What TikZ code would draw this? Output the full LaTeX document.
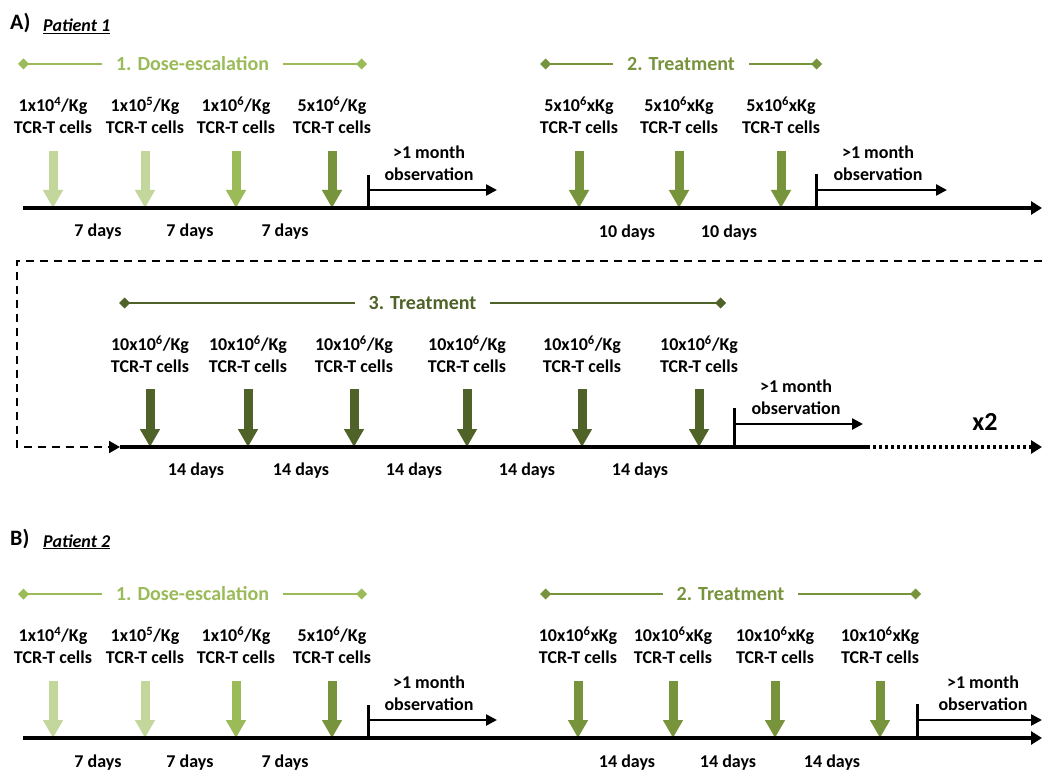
\documentclass[tikz,border=0pt]{standalone}
\usepackage{fontspec}
\setmainfont{Carlito}
\usepackage{tikz}
\usetikzlibrary{arrows.meta}

\definecolor{dosei}{HTML}{C3D69B}
\definecolor{doseii}{HTML}{9BBB59}
\definecolor{doseiii}{HTML}{77933C}
\definecolor{doseiv}{HTML}{4F6228}

\tikzset{
    lbl/.style={font=\fontsize{18}{22}\selectfont\bfseries, align=center, inner sep=0pt, anchor=south},
    days/.style={font=\fontsize{18}{22}\selectfont\bfseries, inner sep=0pt, anchor=base},
    head/.style={font=\fontsize{22}{26}\selectfont\bfseries, inner sep=0pt, anchor=base west},
    patient/.style={font=\fontsize{18}{21}\selectfont\bfseries\itshape, inner sep=0pt, anchor=base west},
    phase/.style={line width=2pt, {Diamond[length=11pt,width=11pt]}-{Diamond[length=11pt,width=11pt]}},
    phasetxt/.style={font=\fontsize{20}{24}\selectfont\bfseries, fill=white, inner xsep=14pt},
    dose/.style={line width=9pt, -{Triangle[length=18pt,width=19pt]}},
    axis/.style={line width=4.5pt, -{Triangle[length=11pt,width=13pt]}},
    dotaxis/.style={line width=4.5pt, dash pattern=on 3pt off 3pt, -{Triangle[length=11pt,width=13pt]}},
    bar/.style={line width=3pt},
    obs/.style={line width=2.5pt, -{Triangle[length=11pt,width=11pt]}},
    link/.style={line width=2pt, dash pattern=on 8pt off 6pt, -{Triangle[length=11pt,width=12pt]}}
}

\begin{document}
\begin{tikzpicture}[x=1pt,y=-1pt]
    \useasboundingbox (0,0) rectangle (1042,770);

    % A) Patient 1, first timeline
    \node[head] (hA) at (10,30) {A)};
    \node[patient] (pA) at (43,32) {\underline{Patient 1}};

    \coordinate (pa1l) at (18,64);
    \coordinate (pa1r) at (367,64);
    \draw[phase, doseii] (pa1l) -- node[phasetxt] {1. Dose-escalation} (pa1r);
    \coordinate (pa2l) at (540,64);
    \coordinate (pa2r) at (822,64);
    \draw[phase, doseiii] (pa2l) -- node[phasetxt] {2. Treatment} (pa2r);

    \node[lbl] (a1) at (53,134) {1x10\textsuperscript{4}/Kg\\TCR-T cells};
    \node[lbl] (a2) at (145,134) {1x10\textsuperscript{5}/Kg\\TCR-T cells};
    \node[lbl] (a3) at (236,134) {1x10\textsuperscript{6}/Kg\\TCR-T cells};
    \node[lbl] (a4) at (332,134) {5x10\textsuperscript{6}/Kg\\TCR-T cells};
    \node[lbl] (a5) at (579,134) {5x10\textsuperscript{6}xKg\\TCR-T cells};
    \node[lbl] (a6) at (679,134) {5x10\textsuperscript{6}xKg\\TCR-T cells};
    \node[lbl] (a7) at (781,134) {5x10\textsuperscript{6}xKg\\TCR-T cells};

    \coordinate (ta0) at (23,208);
    \coordinate (ta9) at (1042,208);
    \draw[dose, dosei] ([yshift=-17pt]a1.south) -- (a1 |- ta0);
    \draw[dose, dosei] ([yshift=-17pt]a2.south) -- (a2 |- ta0);
    \draw[dose, doseii] ([yshift=-17pt]a3.south) -- (a3 |- ta0);
    \draw[dose, doseiii] ([yshift=-17pt]a4.south) -- (a4 |- ta0);
    \draw[dose, doseiii] ([yshift=-17pt]a5.south) -- (a5 |- ta0);
    \draw[dose, doseiii] ([yshift=-17pt]a6.south) -- (a6 |- ta0);
    \draw[dose, doseiii] ([yshift=-17pt]a7.south) -- (a7 |- ta0);
    \draw[axis] (ta0) -- (ta9);

    \node[lbl] (ma1) at (429,181) {>1 month\\observation};
    \coordinate (oa1) at (368,175);
    \coordinate (ea1) at (497,190);
    \draw[bar] (oa1) -- (oa1 |- ta0);
    \draw[obs] (oa1 |- ea1) -- (ea1);
    \node[lbl] (ma2) at (878,181) {>1 month\\observation};
    \coordinate (oa2) at (816,174);
    \coordinate (ea2) at (947,190);
    \draw[bar] (oa2) -- (oa2 |- ta0);
    \draw[obs] (oa2 |- ea2) -- (ea2);

    \node[days] (da1) at (98,237) {7 days};
    \node[days] (da2) at (190,237) {7 days};
    \node[days] (da3) at (285,237) {7 days};
    \node[days] (da4) at (627,238) {10 days};
    \node[days] (da5) at (729,238) {10 days};

    % A) Patient 1, repeated treatment
    \coordinate (t30) at (120,447);
    \coordinate (t38) at (867,447);
    \coordinate (t39) at (1042,447);
    \coordinate (lk) at (17,261);
    \draw[link] (lk -| ta9) -- (lk) |- (t30);

    \coordinate (p3l) at (119,303);
    \coordinate (p3r) at (726,303);
    \draw[phase, doseiv] (p3l) -- node[phasetxt] {3. Treatment} (p3r);

    \node[lbl] (c1) at (150,373) {10x10\textsuperscript{6}/Kg\\TCR-T cells};
    \node[lbl] (c2) at (248,373) {10x10\textsuperscript{6}/Kg\\TCR-T cells};
    \node[lbl] (c3) at (354,373) {10x10\textsuperscript{6}/Kg\\TCR-T cells};
    \node[lbl] (c4) at (467,373) {10x10\textsuperscript{6}/Kg\\TCR-T cells};
    \node[lbl] (c5) at (582,373) {10x10\textsuperscript{6}/Kg\\TCR-T cells};
    \node[lbl] (c6) at (699,373) {10x10\textsuperscript{6}/Kg\\TCR-T cells};
    \draw[dose, doseiv] ([yshift=-16pt]c1.south) -- (c1 |- t30);
    \draw[dose, doseiv] ([yshift=-16pt]c2.south) -- (c2 |- t30);
    \draw[dose, doseiv] ([yshift=-16pt]c3.south) -- (c3 |- t30);
    \draw[dose, doseiv] ([yshift=-16pt]c4.south) -- (c4 |- t30);
    \draw[dose, doseiv] ([yshift=-16pt]c5.south) -- (c5 |- t30);
    \draw[dose, doseiv] ([yshift=-16pt]c6.south) -- (c6 |- t30);
    \draw[line width=4.5pt] (t30) -- (t38);
    \draw[dotaxis] (t38) -- (t39);

    \node[lbl] (m3) at (796,415) {>1 month\\observation};
    \coordinate (o3) at (734,408);
    \coordinate (e3) at (863,424);
    \draw[bar] (o3) -- (o3 |- t30);
    \draw[obs] (o3 |- e3) -- (e3);
    \node[font=\fontsize{26}{30}\selectfont\bfseries] (xt) at (985,422) {x2};

    \node[days] (d31) at (196,475) {14 days};
    \node[days] (d32) at (301,475) {14 days};
    \node[days] (d33) at (414,475) {14 days};
    \node[days] (d34) at (527,475) {14 days};
    \node[days] (d35) at (640,475) {14 days};

    % B) Patient 2
    \node[head] (hB) at (10,545) {B)};
    \node[patient] (pB) at (43,547) {\underline{Patient 2}};

    \begin{scope}[shift={(0,530)}]
        \coordinate (pb1l) at (18,64);
        \coordinate (pb1r) at (367,64);
        \draw[phase, doseii] (pb1l) -- node[phasetxt] {1. Dose-escalation} (pb1r);
        \coordinate (pb2l) at (540,64);
        \coordinate (pb2r) at (921,64);
        \draw[phase, doseiii] (pb2l) -- node[phasetxt] {2. Treatment} (pb2r);

        \node[lbl] (b1) at (53,134) {1x10\textsuperscript{4}/Kg\\TCR-T cells};
        \node[lbl] (b2) at (145,134) {1x10\textsuperscript{5}/Kg\\TCR-T cells};
        \node[lbl] (b3) at (236,134) {1x10\textsuperscript{6}/Kg\\TCR-T cells};
        \node[lbl] (b4) at (332,134) {5x10\textsuperscript{6}/Kg\\TCR-T cells};
        \node[lbl] (b5) at (578,134) {10x10\textsuperscript{6}xKg\\TCR-T cells};
        \node[lbl] (b6) at (673,134) {10x10\textsuperscript{6}xKg\\TCR-T cells};
        \node[lbl] (b7) at (775,134) {10x10\textsuperscript{6}xKg\\TCR-T cells};
        \node[lbl] (b8) at (880,134) {10x10\textsuperscript{6}xKg\\TCR-T cells};

        \coordinate (tb0) at (23,208);
        \coordinate (tb9) at (1042,208);
        \draw[dose, dosei] ([yshift=-17pt]b1.south) -- (b1 |- tb0);
        \draw[dose, dosei] ([yshift=-17pt]b2.south) -- (b2 |- tb0);
        \draw[dose, doseii] ([yshift=-17pt]b3.south) -- (b3 |- tb0);
        \draw[dose, doseiii] ([yshift=-17pt]b4.south) -- (b4 |- tb0);
        \draw[dose, doseiii] ([yshift=-17pt]b5.south) -- (b5 |- tb0);
        \draw[dose, doseiii] ([yshift=-17pt]b6.south) -- (b6 |- tb0);
        \draw[dose, doseiii] ([yshift=-17pt]b7.south) -- (b7 |- tb0);
        \draw[dose, doseiii] ([yshift=-17pt]b8.south) -- (b8 |- tb0);
        \draw[axis] (tb0) -- (tb9);

        \node[lbl] (mb1) at (429,181) {>1 month\\observation};
        \coordinate (ob1) at (368,175);
        \coordinate (eb1) at (497,190);
        \draw[bar] (ob1) -- (ob1 |- tb0);
        \draw[obs] (ob1 |- eb1) -- (eb1);
        \node[lbl] (mb2) at (983,181) {>1 month\\observation};
        \coordinate (ob2) at (917,174);
        \coordinate (eb2) at (1042,190);
        \draw[bar] (ob2) -- (ob2 |- tb0);
        \draw[obs] (ob2 |- eb2) -- (eb2);

        \node[days] (db1) at (98,237) {7 days};
        \node[days] (db2) at (190,237) {7 days};
        \node[days] (db3) at (285,237) {7 days};
        \node[days] (db4) at (627,237) {14 days};
        \node[days] (db5) at (728,237) {14 days};
        \node[days] (db6) at (832,237) {14 days};
    \end{scope}
\end{tikzpicture}
\end{document}
